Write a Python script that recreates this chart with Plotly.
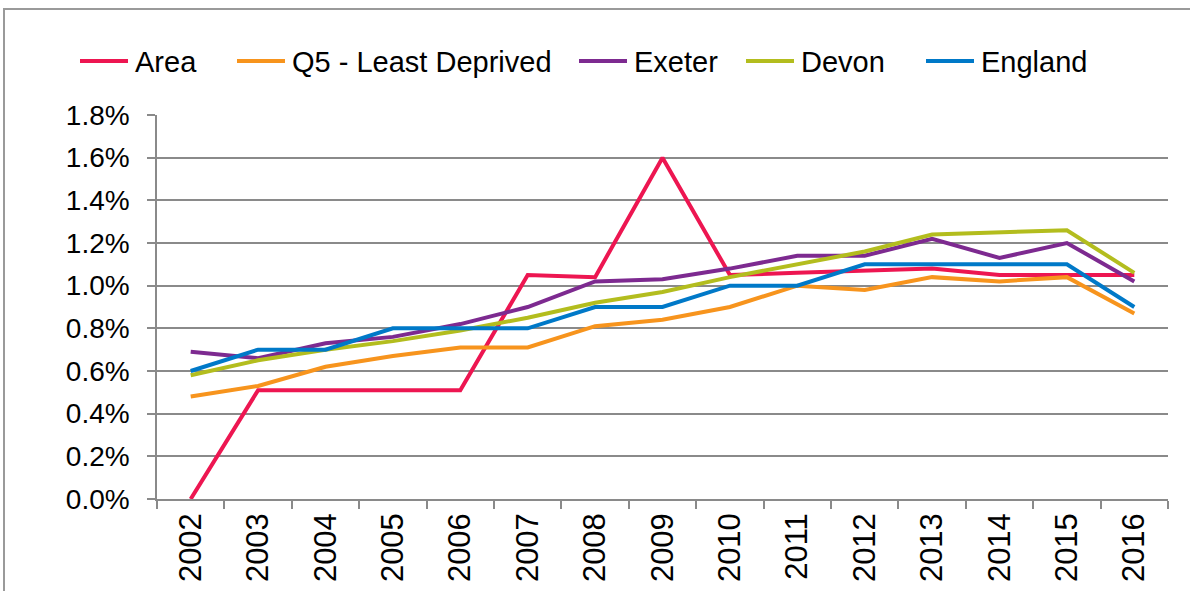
import plotly.graph_objects as go

# Annual rates (%) by year for each comparison group
years = ["2002", "2003", "2004", "2005", "2006", "2007", "2008", "2009",
         "2010", "2011", "2012", "2013", "2014", "2015", "2016"]

area = [0.00, 0.51, 0.51, 0.51, 0.51, 1.05, 1.04, 1.60,
        1.05, 1.06, 1.07, 1.08, 1.05, 1.05, 1.05]
q5_least_deprived = [0.48, 0.53, 0.62, 0.67, 0.71, 0.71, 0.81, 0.84,
                     0.90, 1.00, 0.98, 1.04, 1.02, 1.04, 0.87]
exeter = [0.69, 0.66, 0.73, 0.76, 0.82, 0.90, 1.02, 1.03,
          1.08, 1.14, 1.14, 1.22, 1.13, 1.20, 1.02]
devon = [0.58, 0.65, 0.70, 0.74, 0.79, 0.85, 0.92, 0.97,
         1.04, 1.10, 1.16, 1.24, 1.25, 1.26, 1.06]
england = [0.60, 0.70, 0.70, 0.80, 0.80, 0.80, 0.90, 0.90,
           1.00, 1.00, 1.10, 1.10, 1.10, 1.10, 0.90]

series = [
    ("Area", area, "#ED1651"),
    ("Q5 - Least Deprived", q5_least_deprived, "#F7941D"),
    ("Exeter", exeter, "#7D2A90"),
    ("Devon", devon, "#B3BD1E"),
    ("England", england, "#0079C8"),
]

FONT = "Liberation Sans, Arial, sans-serif"
GRID = "#8A8A8A"

W, H = 1190, 591
ML, MR, MT, MB = 157, 22, 115, 92
PW, PH = W - ML - MR, H - MT - MB


def px_x(px):
    """Pixel column -> paper x (relative to the plot area)."""
    return (px - ML) / PW


def px_y(py):
    """Pixel row -> paper y (relative to the plot area)."""
    return (H - MB - py) / PH


fig = go.Figure()
for name, values, color in series:
    fig.add_trace(go.Scatter(
        x=years, y=values, name=name, mode="lines",
        line=dict(color=color, width=4),
        showlegend=False,
    ))

# Legend row across the top: a short coloured line followed by the name
legend_starts = [80, 237, 579, 746, 926]
swatch_len = 48
legend_row = 61
shapes = []
annotations = []
for (name, _, color), x0 in zip(series, legend_starts):
    shapes.append(dict(
        type="line", xref="paper", yref="paper",
        x0=px_x(x0), x1=px_x(x0 + swatch_len),
        y0=px_y(legend_row), y1=px_y(legend_row),
        line=dict(color=color, width=4),
    ))
    annotations.append(dict(
        text=name, xref="paper", yref="paper",
        x=px_x(x0 + swatch_len + 5), y=px_y(legend_row + 1),
        xanchor="left", yanchor="middle", showarrow=False,
        font=dict(family=FONT, size=29, color="black"),
    ))

# Outer chart border
shapes.append(dict(
    type="rect", xref="paper", yref="paper",
    x0=px_x(4), x1=px_x(W + 20), y0=px_y(H + 20), y1=px_y(9),
    line=dict(color="#9A9A9A", width=2), fillcolor="rgba(0,0,0,0)",
    layer="below",
))

fig.update_layout(
    width=W, height=H,
    margin=dict(l=ML, r=MR, t=MT, b=MB),
    paper_bgcolor="white", plot_bgcolor="white",
    font=dict(family=FONT, size=28, color="black"),
    showlegend=False,
    xaxis=dict(
        type="category", range=[-0.5, 14.5], automargin=False,
        tickson="boundaries", ticks="outside", ticklen=8, tickcolor=GRID,
        tickwidth=1.5, showline=True, linecolor=GRID, linewidth=1.5,
        showgrid=False, tickangle=-90,
        tickfont=dict(family=FONT, size=31, color="black"),
    ),
    yaxis=dict(
        range=[0, 1.8], dtick=0.2, tick0=0, tickformat=".1f", ticksuffix="%",
        automargin=False,
        ticks="outside", ticklen=8, tickcolor=GRID, tickwidth=1.5,
        showline=True, linecolor=GRID, linewidth=1.5,
        showgrid=True, gridcolor=GRID, gridwidth=1.5, zeroline=False,
        ticklabelstandoff=12,
        tickfont=dict(family=FONT, size=28, color="black"),
    ),
    shapes=shapes,
    annotations=annotations,
)

fig.write_html("out.html")
